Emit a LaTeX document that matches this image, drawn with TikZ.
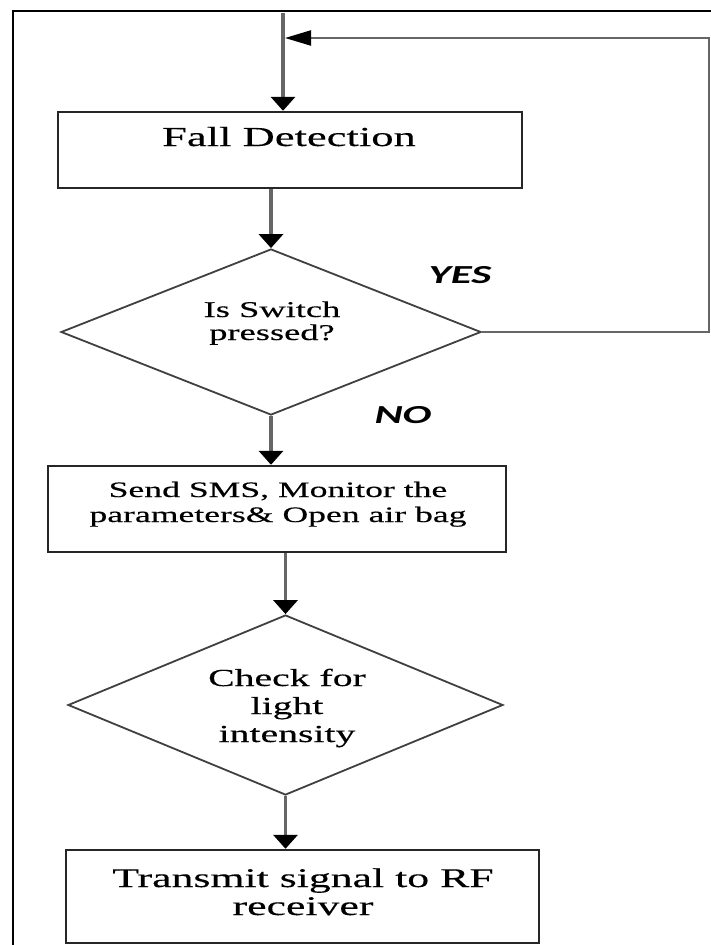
\documentclass[tikz,border=0pt]{standalone}
\usepackage{fontspec}
\setmainfont[FakeStretch=1.62,FakeBold=0.3]{Liberation Serif}
\newfontfamily\labfont[FakeStretch=1.65]{Carlito}
\usetikzlibrary{shapes.geometric,arrows.meta}
\tikzset{
  procbox/.style={draw=black!85, line width=2.4pt, rectangle, inner sep=0pt},
  decbox/.style={draw=black!75, line width=1.8pt, diamond, inner sep=0pt},
  txt/.style={inner sep=0pt, anchor=base},
  flow/.style={draw=black!60, line width=3.4pt},
  backflow/.style={draw=black!60, line width=2.2pt},
  vtip/.style={-{Triangle[length=14pt,width=24pt,color=black]}},
  htip/.style={-{Triangle[length=26pt,width=15pt,color=black]}},
  frameline/.style={draw=black, line width=2.6pt},
  yn/.style={inner sep=0pt, anchor=base, font=\labfont\bfseries\itshape\fontsize{26}{28}\selectfont},
}
\begin{document}
\begin{tikzpicture}[x=1pt,y=-1pt]
\useasboundingbox (0,0) rectangle (711,945);
\fill[white] (0,0) rectangle (711,945);

% frame
\coordinate (fbl) at (13,945);
\coordinate (ftl) at (13,11);
\coordinate (ftr) at (711,11);
\draw[frameline] (fbl) -- (ftl) -- (ftr);

% shapes
\node[procbox, minimum width=464pt, minimum height=76pt] (fall) at (290,150) {};
\node[decbox, minimum width=420pt, minimum height=166pt] (d1) at (271,332) {};
\node[procbox, minimum width=458pt, minimum height=86pt] (sms) at (277,509) {};
\node[decbox, minimum width=435pt, minimum height=180pt] (d2) at (285.5,705) {};
\node[procbox, minimum width=473pt, minimum height=93pt] (tx) at (302.5,896.5) {};

% texts
\node[txt, font=\fontsize{27.5}{30}\selectfont] (fallt) at (289,146) {Fall Detection};
\node[txt, font=\fontsize{22.5}{23}\selectfont] (d1t) at (272,317)
  {\begin{tabular}[t]{@{}c@{}}Is Switch\\pressed?\end{tabular}};
\node[txt, font=\fontsize{22}{25}\selectfont] (smst) at (278,497)
  {\begin{tabular}[t]{@{}c@{}}Send SMS, Monitor the\\parameters\& Open air bag\end{tabular}};
\node[txt, font=\fontsize{24.5}{28}\selectfont] (d2t) at (287,686)
  {\begin{tabular}[t]{@{}c@{}}Check for\\light\\intensity\end{tabular}};
\node[txt, font=\fontsize{27}{28}\selectfont] (txt3) at (303,887)
  {\begin{tabular}[t]{@{}c@{}}Transmit signal to RF\\receiver\end{tabular}};

\node[yn] (yes) at (460,283) {YES};
\node[yn] (no) at (403,423) {NO};

% connectors
\coordinate (src) at (283,13);
\coordinate (fbr) at (709,38);
\draw[flow, vtip] (src) -- (src |- fall.north);
\draw[flow, vtip] (d1.north |- fall.south) -- (d1.north);
\draw[backflow, htip] (d1.east) -| (fbr) -- ([xshift=2pt]src |- fbr);
\draw[flow, vtip] (d1.south) -- (d1.south |- sms.north);
\draw[flow, vtip] (d2.north |- sms.south) -- (d2.north);
\draw[flow, vtip] (d2.south) -- (d2.south |- tx.north);
\end{tikzpicture}
\end{document}
